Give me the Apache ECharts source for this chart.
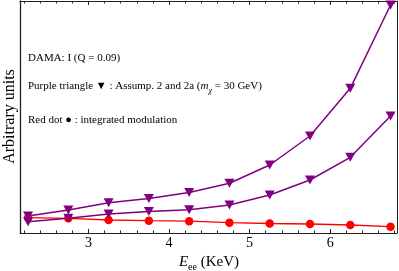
<!DOCTYPE html>
<html>
<head>
<meta charset="utf-8">
<script src="https://cdn.jsdelivr.net/npm/echarts@6/dist/echarts.min.js"></script>
<style>html,body{margin:0;padding:0;background:#fff}#c{width:399px;height:271px}</style>
</head>
<body>
<div id="c"></div>
<script>
// Energies (KeV)
var energies = [2.25, 2.75, 3.25, 3.75, 4.25, 4.75, 5.25, 5.75, 6.25, 6.75];
// Arbitrary units
var purpleUpper = [17, 23, 30.3, 34.5, 40.5, 49.7, 68, 97, 144.7, 228];
var purpleLower = [11.3, 14.7, 19, 21.5, 23.3, 28, 38, 53, 75.7, 117];
var redDot = [15.3, 14.7, 13, 12.3, 11.8, 10.3, 9.5, 9, 8, 6.3];
var majorTicks = [3, 4, 5, 6];
var minorTicks = [2.2, 2.4, 2.6, 2.8, 3.2, 3.4, 3.6, 3.8, 4.2, 4.4, 4.6, 4.8, 5.2, 5.4, 5.6, 5.8, 6.2, 6.4, 6.6, 6.8];

function pairs(xs, ys) { return xs.map(function (x, i) { return [x, ys[i]]; }); }

var FONT = '"Liberation Serif", "DejaVu Serif", serif';
var XMIN = 2.15, XMAX = 6.83;
var frameColor = '#222';

function xAx(pos, ticks, len, showLine, showLabel) {
  return {
    type: 'value', position: pos, min: XMIN, max: XMAX,
    axisLine: { show: showLine, lineStyle: { color: frameColor, width: 1 } },
    axisTick: { show: true, inside: true, length: len, customValues: ticks, lineStyle: { color: frameColor } },
    axisLabel: showLabel ? { show: true, customValues: ticks, fontFamily: FONT, fontSize: 14, color: '#000', margin: 3 } : { show: false },
    splitLine: { show: false }
  };
}

var chart = echarts.init(document.getElementById('c'), null, { renderer: 'canvas' });
chart.setOption({
  animation: false,
  backgroundColor: '#fff',
  grid: { left: 20, right: 2, top: 1, bottom: 38, containLabel: false },
  xAxis: [
    xAx('bottom', majorTicks, 4, true, true),
    xAx('bottom', minorTicks, 2.5, false, false),
    xAx('top', majorTicks, 4, true, false),
    xAx('top', minorTicks, 2.5, false, false)
  ],
  yAxis: [
    { type: 'value', position: 'left', min: 0, max: 232, axisLine: { show: true, lineStyle: { color: frameColor, width: 1.3 } }, axisTick: { show: false }, axisLabel: { show: false }, splitLine: { show: false } },
    { type: 'value', position: 'right', min: 0, max: 232, axisLine: { show: true, lineStyle: { color: frameColor, width: 1 } }, axisTick: { show: false }, axisLabel: { show: false }, splitLine: { show: false } }
  ],
  series: [
    { type: 'line', data: pairs(energies, redDot), symbol: 'circle', symbolSize: 8.5, itemStyle: { color: '#ff0000' }, lineStyle: { color: '#ff0000', width: 1.3 } },
    { type: 'line', data: pairs(energies, purpleLower), symbol: 'triangle', symbolRotate: 180, symbolSize: [10, 9], itemStyle: { color: '#800080' }, lineStyle: { color: '#800080', width: 1.5 } },
    { type: 'line', data: pairs(energies, purpleUpper), symbol: 'triangle', symbolRotate: 180, symbolSize: [10, 9], itemStyle: { color: '#800080' }, lineStyle: { color: '#800080', width: 1.5 } }
  ],
  graphic: [
    { type: 'text', left: 28, top: 53, style: { text: 'DAMA: I (Q = 0.09)', font: '11px ' + FONT, fill: '#000' } },
    { type: 'text', left: 28, top: 81, style: {
      text: '{n|Purple triangle ▼ : Assump. 2 and 2a (}{i|m}{s|χ}{n| = 30 GeV)}',
      rich: {
        n: { fontFamily: FONT, fontSize: 11, lineHeight: 16, fill: '#000', color: '#000' },
        i: { fontFamily: FONT, fontSize: 11, fontStyle: 'italic', lineHeight: 16, color: '#000' },
        s: { fontFamily: FONT, fontSize: 8, fontStyle: 'italic', lineHeight: 8, verticalAlign: 'bottom', color: '#000' }
      } } },
    { type: 'text', left: 28, top: 115, style: { text: 'Red dot ● : integrated modulation', font: '11px ' + FONT, fill: '#000' } },
    { type: 'text', x: 10, y: 116.5, rotation: Math.PI / 2, style: { text: 'Arbitrary units', font: '16px ' + FONT, fill: '#000', align: 'center', verticalAlign: 'middle' } },
    { type: 'text', x: 209, y: 262, style: {
      text: '{e|E}{s|ee}{n| (KeV)}', align: 'center', verticalAlign: 'middle',
      rich: {
        e: { fontFamily: FONT, fontSize: 15, fontStyle: 'italic', lineHeight: 20, color: '#000' },
        s: { fontFamily: FONT, fontSize: 10, lineHeight: 10, verticalAlign: 'bottom', color: '#000' },
        n: { fontFamily: FONT, fontSize: 15, lineHeight: 20, color: '#000' }
      } } }
  ]
});
</script>
</body>
</html>
